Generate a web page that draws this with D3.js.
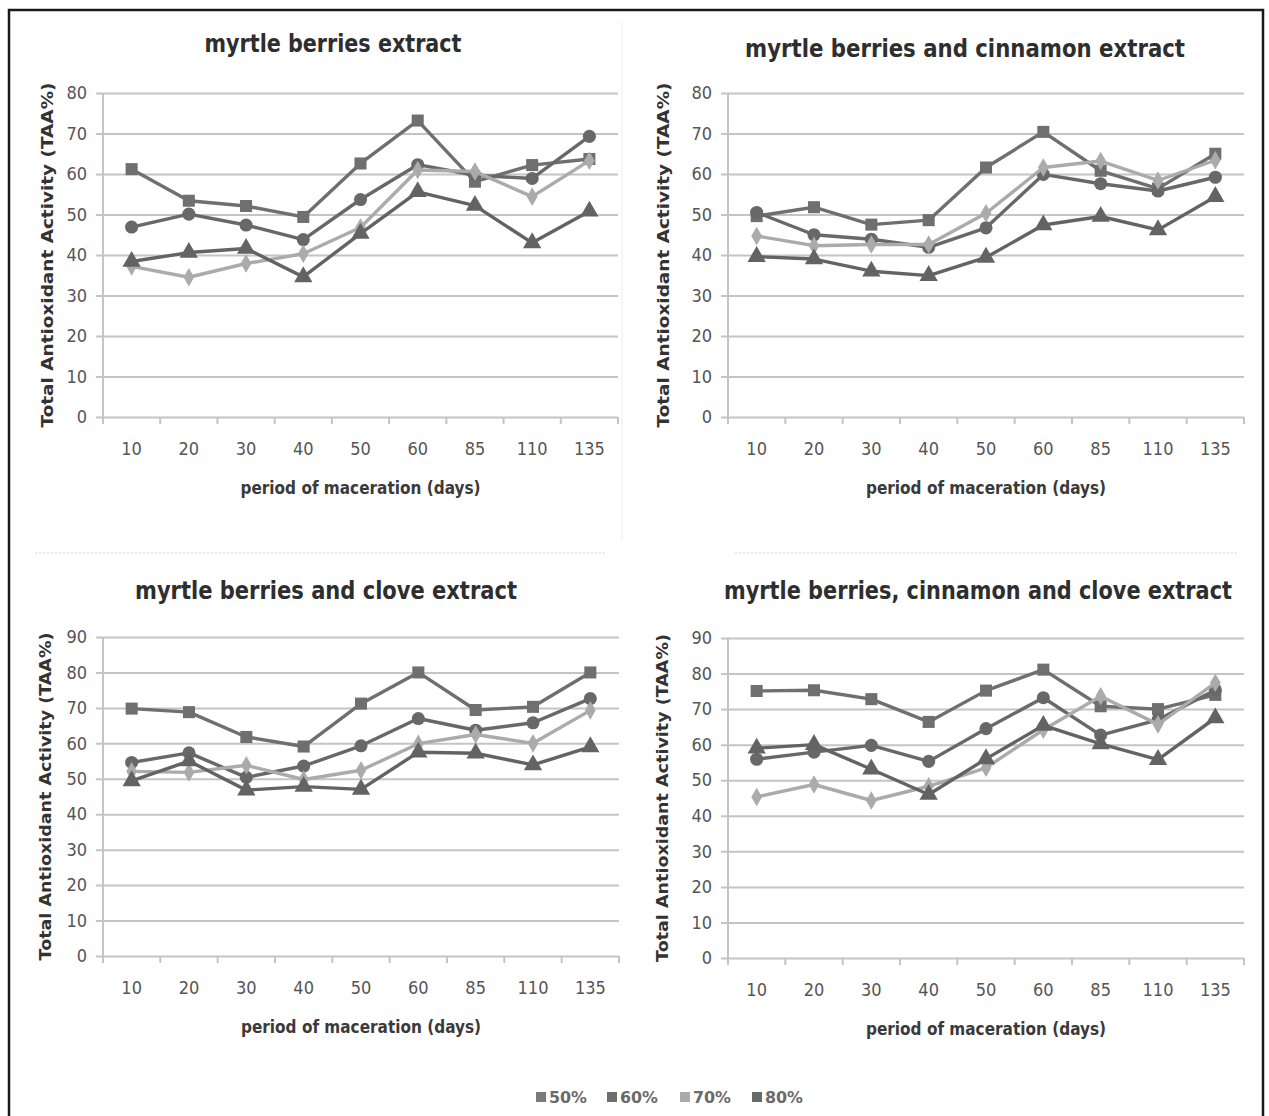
<!DOCTYPE html>
<html>
<head>
<meta charset="utf-8">
<script src="https://cdn.jsdelivr.net/npm/d3@7"></script>
<style>
  html, body { margin: 0; padding: 0; background: #ffffff; }
  svg { display: block; }
</style>
</head>
<body>
<svg id="chart" width="1269" height="1116"></svg>
<script>
// ---------------- DATA ----------------
const categories = ["10", "20", "30", "40", "50", "60", "85", "110", "135"];
const seriesNames = ["50%", "60%", "70%", "80%"];
const panelTitles = [
  "myrtle berries extract",
  "myrtle berries and cinnamon extract",
  "myrtle berries and clove extract",
  "myrtle berries, cinnamon and clove extract"
];
const xAxisTitle = "period of maceration (days)";
const yAxisTitle = "Total Antioxidant Activity (TAA%)";
const yTicksTop = [0, 10, 20, 30, 40, 50, 60, 70, 80];
const yTicksBottom = [0, 10, 20, 30, 40, 50, 60, 70, 80, 90];

// myrtle berries extract
const myrtle50 = [61.2, 53.4, 52.1, 49.4, 62.6, 73.2, 58.1, 62.2, 63.7];
const myrtle60 = [46.9, 50.1, 47.4, 43.8, 53.7, 62.3, 59.7, 58.9, 69.3];
const myrtle70 = [37.2, 34.5, 37.9, 40.3, 46.8, 61.0, 60.6, 54.4, 63.3];
const myrtle80 = [38.4, 40.6, 41.6, 34.6, 45.3, 55.6, 52.2, 43.0, 50.8];

// myrtle berries and cinnamon extract
const cinnamon50 = [49.6, 51.8, 47.5, 48.6, 61.6, 70.4, 60.8, 56.4, 65.0];
const cinnamon60 = [50.5, 45.0, 43.9, 41.9, 46.7, 59.9, 57.6, 55.8, 59.2];
const cinnamon70 = [44.7, 42.3, 42.6, 42.6, 50.3, 61.6, 63.2, 58.4, 63.4];
const cinnamon80 = [39.6, 39.0, 36.0, 34.9, 39.4, 47.4, 49.5, 46.2, 54.4];

// myrtle berries and clove extract
const clove50 = [69.8, 68.8, 61.8, 59.1, 71.2, 80.0, 69.4, 70.3, 80.0];
const clove60 = [54.6, 57.3, 50.4, 53.6, 59.3, 67.0, 63.7, 65.8, 72.6];
const clove70 = [52.1, 51.8, 53.8, 49.8, 52.4, 59.9, 62.5, 60.0, 69.3];
const clove80 = [49.4, 55.0, 46.8, 47.8, 47.0, 57.5, 57.2, 53.9, 59.0];

// myrtle berries, cinnamon and clove extract
const mix50 = [75.1, 75.3, 72.8, 66.4, 75.2, 81.1, 70.8, 70.0, 74.0];
const mix60 = [55.9, 57.9, 59.8, 55.3, 64.5, 73.2, 62.7, 67.0, 75.4];
const mix70 = [45.3, 48.8, 44.3, 48.3, 53.5, 64.2, 73.6, 65.7, 77.4];
const mix80 = [59.0, 60.0, 53.1, 46.0, 56.0, 65.4, 60.2, 55.8, 67.5];

const panelData = [
  [myrtle50, myrtle60, myrtle70, myrtle80],
  [cinnamon50, cinnamon60, cinnamon70, cinnamon80],
  [clove50, clove60, clove70, clove80],
  [mix50, mix60, mix70, mix80]
];
const panelTicks = [yTicksTop, yTicksTop, yTicksBottom, yTicksBottom];

// ---------------- STYLE / LAYOUT ----------------
const seriesColor = ["#6f6f6f", "#686868", "#ababab", "#636363"];
const seriesSymbol = [d3.symbolSquare, d3.symbolCircle, d3.symbolDiamond, d3.symbolTriangle];
const seriesSymbolSize = [145, 135, 100, 145];
const legendColor = ["#7a7a7a", "#6e6e6e", "#ababab", "#6a6a6a"];

const panels = [
  { left: 103, right: 618, top: 93,  bottom: 417, titleX: 333, titleY: 52, titleLen: 257, yTitleX: 47,  yTitleLen: 345 },
  { left: 728, right: 1244, top: 93, bottom: 417, titleX: 965, titleY: 57, titleLen: 440, yTitleX: 663, yTitleLen: 345 },
  { left: 103, right: 619, top: 637, bottom: 956, titleX: 326, titleY: 599, titleLen: 382, yTitleX: 45,  yTitleLen: 328 },
  { left: 728, right: 1244, top: 638, bottom: 958, titleX: 978, titleY: 599, titleLen: 508, yTitleX: 662, yTitleLen: 328 }
];

const condensed = "'DejaVu Sans Condensed', 'Liberation Sans Narrow', 'DejaVu Sans', sans-serif";
const gridColor = "#c4c4c4";

const svg = d3.select("#chart");

// outer frame
svg.append("rect")
  .attr("x", 9).attr("y", 10).attr("width", 1254).attr("height", 1120)
  .attr("fill", "none").attr("stroke", "#1a1a1a").attr("stroke-width", 2.5);

// faint separators of the original composite image
svg.append("line").attr("x1", 35).attr("x2", 605).attr("y1", 553).attr("y2", 553)
  .attr("stroke", "#e4e4e4").attr("stroke-width", 1.5).attr("stroke-dasharray", "2,2");
svg.append("line").attr("x1", 735).attr("x2", 1238).attr("y1", 553).attr("y2", 553)
  .attr("stroke", "#e4e4e4").attr("stroke-width", 1.5).attr("stroke-dasharray", "2,2");
svg.append("line").attr("x1", 622).attr("x2", 622).attr("y1", 22).attr("y2", 540)
  .attr("stroke", "#f3f3f3").attr("stroke-width", 1.5);

panels.forEach((p, pi) => {
  const ticks = panelTicks[pi];
  const yMax = d3.max(ticks);
  const x = d3.scaleBand().domain(categories).range([p.left, p.right]).paddingInner(0).paddingOuter(0);
  const y = d3.scaleLinear().domain([0, yMax]).range([p.bottom, p.top]);
  const g = svg.append("g");

  // horizontal grid lines (with small left tick extension)
  const yAxis = d3.axisLeft(y).tickValues(ticks).tickSize(-(p.right - p.left + 7)).tickPadding(10).tickFormat(d3.format("d"));
  const yg = g.append("g").attr("transform", `translate(${p.left - 7},0)`).call(yAxis);
  yg.select(".domain").remove();
  yg.selectAll(".tick line").attr("stroke", gridColor).attr("stroke-width", 2);
  yg.selectAll(".tick text")
    .attr("fill", "#555").attr("font-family", condensed).attr("font-size", 18).attr("x", -9);

  // vertical axis line
  g.append("line").attr("x1", p.left).attr("x2", p.left).attr("y1", p.top).attr("y2", p.bottom + 7)
    .attr("stroke", gridColor).attr("stroke-width", 2);

  // x axis ticks at band edges
  const edges = categories.map(c => x(c)).concat([p.right]);
  g.selectAll(".xtick").data(edges).enter().append("line")
    .attr("x1", d => d).attr("x2", d => d).attr("y1", p.bottom).attr("y2", p.bottom + 7)
    .attr("stroke", gridColor).attr("stroke-width", 2);

  // x category labels
  g.selectAll(".xlab").data(categories).enter().append("text")
    .attr("x", d => x(d) + x.bandwidth() / 2).attr("y", p.bottom + 38)
    .attr("text-anchor", "middle").attr("fill", "#555")
    .attr("font-family", condensed).attr("font-size", 18).text(d => d);

  // x axis title
  g.append("text").attr("x", (p.left + p.right) / 2).attr("y", p.bottom + 77)
    .attr("text-anchor", "middle").attr("fill", "#3a3a3a")
    .attr("font-family", condensed).attr("font-weight", "bold").attr("font-size", 18)
    .attr("textLength", 240).attr("lengthAdjust", "spacingAndGlyphs")
    .text(xAxisTitle);

  // y axis title
  g.append("text")
    .attr("transform", `translate(${p.yTitleX + 6},${(p.top + p.bottom) / 2}) rotate(-90)`)
    .attr("text-anchor", "middle").attr("fill", "#333")
    .attr("font-family", "'DejaVu Sans', sans-serif").attr("font-weight", "bold").attr("font-size", 15)
    .attr("textLength", p.yTitleLen).attr("lengthAdjust", "spacingAndGlyphs")
    .text(yAxisTitle);

  // panel title
  g.append("text").attr("x", p.titleX).attr("y", p.titleY)
    .attr("text-anchor", "middle").attr("fill", "#2e2e2e")
    .attr("font-family", condensed).attr("font-weight", "bold").attr("font-size", 24)
    .attr("textLength", p.titleLen).attr("lengthAdjust", "spacingAndGlyphs")
    .text(panelTitles[pi]);

  // series lines and markers
  const line = d3.line().x((d, i) => x(categories[i]) + x.bandwidth() / 2).y(d => y(d));
  panelData[pi].forEach((vals, si) => {
    g.append("path").datum(vals).attr("d", line)
      .attr("fill", "none").attr("stroke", seriesColor[si]).attr("stroke-width", 3.4)
      .attr("stroke-linejoin", "round");
    g.selectAll(`.m${si}`).data(vals).enter().append("path")
      .attr("transform", (d, i) => `translate(${x(categories[i]) + x.bandwidth() / 2},${y(d)})`)
      .attr("d", d3.symbol().type(seriesSymbol[si]).size(seriesSymbolSize[si]))
      .attr("fill", seriesColor[si]);
  });
});

// legend
const legendX = [541, 612, 685, 757];
const lg = svg.append("g");
seriesNames.forEach((name, i) => {
  lg.append("rect").attr("x", legendX[i] - 5).attr("y", 1092).attr("width", 10).attr("height", 10)
    .attr("fill", legendColor[i]);
  lg.append("text").attr("x", legendX[i] + 8).attr("y", 1103)
    .attr("fill", "#6a6a6a").attr("font-family", condensed).attr("font-weight", "bold")
    .attr("font-size", 16).attr("textLength", 38).attr("lengthAdjust", "spacingAndGlyphs").text(name);
});
</script>
</body>
</html>
